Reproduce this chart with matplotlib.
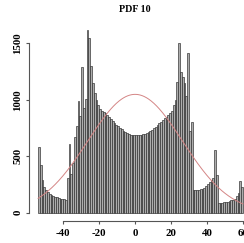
import numpy as np
import matplotlib
matplotlib.use("Agg")
import matplotlib.pyplot as plt

# histogram: unit-width bins starting at -54
bin_start = -54
counts = [
    580, 420, 290, 230, 200, 180, 165, 155, 145, 140, 135, 130, 125, 120, 118, 115,
    310, 610, 340, 440, 670, 770, 990, 860, 1290, 930, 1010, 1615, 1545, 1300,
    1150, 1060, 1000, 950, 920, 900, 890,
    880, 866, 850, 833, 815, 797, 780, 764, 750, 737, 725, 714, 705, 698, 692, 688,
    686, 685, 685, 687, 690, 694, 700, 707, 715, 724, 735, 747, 760, 775, 790, 805,
    820, 835, 850,
    865, 880, 905, 950, 1000, 1160, 1505, 1250, 1200, 1150, 1030, 1410, 720, 800,
    205, 205, 205, 205, 208, 212, 222, 235, 250, 270, 290, 310, 555, 330,
    90, 90, 90, 92, 95, 98, 102, 108, 115, 125, 150, 175, 280, 230,
]
# fitted normal curve (scaled to counts)
curve_mean = 0.0
curve_sd = 26.3
curve_peak = 1048

xticks = [-40, -20, 0, 20, 40, 60]
yticks = [0, 500, 1000, 1500]

font = {"family": "Liberation Serif", "weight": "bold", "size": 7.8}

fig = plt.figure(figsize=(2.44, 2.43), dpi=100)
W, H = 244, 243
ax = fig.add_axes([29.3 / W, (H - 220.7) / H, (244 - 29.3) / W, (220.7 - 23) / H])

edges = np.arange(bin_start, bin_start + len(counts))
ax.bar(edges, counts, width=1, align="edge", color="#adadad",
       edgecolor="#2a2a2a", linewidth=0.45)

xs = np.linspace(-54, 60, 300)
ys = curve_peak * np.exp(-0.5 * ((xs - curve_mean) / curve_sd) ** 2)
ax.plot(xs, ys, color="#d48585", linewidth=0.7)

ax.set_xlim(-58.9, 60.6)
ax.set_ylim(-71, 1680)

for s in ["top", "right"]:
    ax.spines[s].set_visible(False)
ax.spines["left"].set_bounds(0, 1500)
ax.spines["bottom"].set_bounds(-40, 60)
for s in ["left", "bottom"]:
    ax.spines[s].set_color("#555555")
    ax.spines[s].set_linewidth(0.8)

ax.set_xticks(xticks)
ax.set_yticks(yticks)
ax.set_xticklabels([str(t) for t in xticks], fontdict=font)
ax.set_yticklabels([str(t) for t in yticks], fontdict=font,
                   rotation=90, va="center")
ax.tick_params(axis="both", length=2.5, width=0.8, color="#555555")
ax.tick_params(axis="x", pad=3.5)
ax.tick_params(axis="y", pad=2.5)

fig.text(135 / W, 1 - 9 / H, "PDF 10", ha="center", va="center",
         fontdict={"family": "Liberation Serif", "weight": "bold", "size": 7.2})
fig.text(-4 / W, 1 - 125 / H, "Frequency", ha="center", va="center",
         rotation=90, fontdict=font)

fig.savefig("out.png", dpi=100)
